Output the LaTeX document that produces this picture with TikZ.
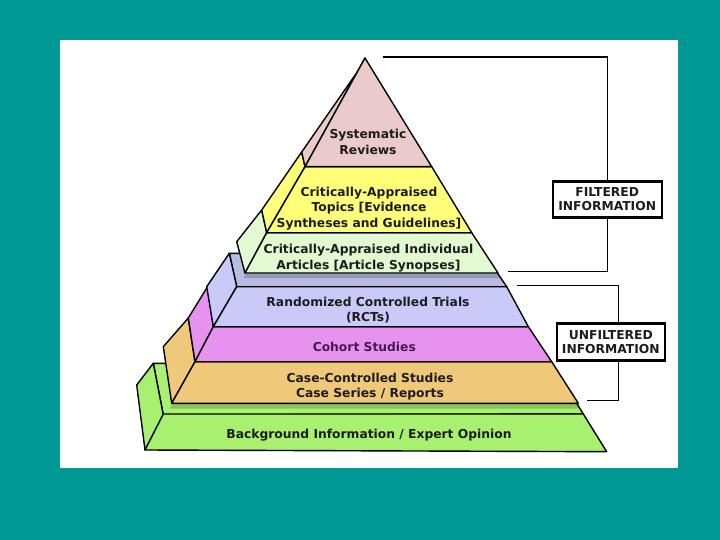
\documentclass[tikz,border=0pt]{standalone}
\usepackage{fontspec}
\setmainfont{DejaVu Sans}
\usetikzlibrary{positioning}
\usepackage{xcolor}

\definecolor{slidebg}{RGB}{0,153,150}
\definecolor{srpink}{RGB}{234,202,202}
\definecolor{catyellow}{RGB}{255,255,122}
\definecolor{caigreen}{RGB}{226,250,210}
\definecolor{rctblue}{RGB}{202,202,248}
\definecolor{rcttop}{RGB}{184,188,226}
\definecolor{cohpink}{RGB}{232,146,240}
\definecolor{caseorange}{RGB}{240,200,122}
\definecolor{basegreen}{RGB}{168,240,112}
\definecolor{txtgray}{RGB}{28,28,28}
\definecolor{txtpurple}{RGB}{70,24,80}

\begin{document}
\begin{tikzpicture}[
  x=1pt, y=-1pt,
  face/.style={
    draw=black,
    line width=1.4pt,
    line join=round
  },
  lbl/.style={
    font=\bfseries\fontsize{12.3}{15.3}\selectfont,
    text=txtgray,
    align=center
  },
  tag/.style={
    draw=black,
    line width=2.4pt,
    fill=white,
    align=center,
    inner sep=1pt,
    minimum width=109pt,
    minimum height=36pt,
    text=txtgray,
    font=\bfseries\fontsize{12.3}{14}\selectfont
  },
  link/.style={line width=1.1pt},
  shade/.style={fill=black, opacity=0.18}
]

\useasboundingbox (0,0) rectangle (720,540);
\fill[slidebg] (0,0) rectangle (720,540);
\fill[white] (60,40) rectangle (678,468);

% base layer
\filldraw[face, fill=basegreen] (163.3,415) -- (583.3,414) -- (552,363.3) -- (153.3,363.3) -- cycle;
\filldraw[face, fill=basegreen] (145,450) -- (163.3,415) -- (153.3,363.3) -- (136.7,385) -- cycle;
\filldraw[face, fill=basegreen] (145,450) -- (163.3,414) -- (583.3,414) -- (606.7,451.7) -- cycle;
\fill[shade] (172,404) -- (578.5,404) -- (580.5,408.5) -- (170,408.5) -- cycle;

% case-controlled
\filldraw[face, fill=caseorange] (171.7,403.3) -- (195,361.7) -- (188.3,318) -- (163.3,346.7) -- cycle;
\filldraw[face, fill=caseorange] (171.7,403.3) -- (195,361.7) -- (551.7,361.7) -- (578.3,403.3) -- cycle;

% cohort
\filldraw[face, fill=cohpink] (195,361.7) -- (213.3,326.7) -- (208.3,285.5) -- (188.3,318) -- cycle;
\filldraw[face, fill=cohpink] (195,361.7) -- (213.3,326.7) -- (528.3,326.7) -- (551.7,361.7) -- cycle;

% rcts
\filldraw[face, fill=rcttop] (236.7,286.7) -- (506.7,286.7) -- (484,253.3) -- (229.3,253.3) -- cycle;
\filldraw[face, fill=rctblue] (213.3,326.7) -- (236.7,286.7) -- (229.3,253.3) -- (206.7,286.7) -- cycle;
\filldraw[face, fill=rctblue] (213.3,326.7) -- (236.7,286.7) -- (506.7,286.7) -- (528.3,326.7) -- cycle;
\fill[shade] (245.5,274) -- (498.5,274) -- (500.5,278) -- (243.5,278) -- cycle;

% individual articles
\filldraw[face, fill=caigreen] (245,273) -- (266.7,232.7) -- (261.7,210) -- (236.7,241.7) -- cycle;
\filldraw[face, fill=caigreen] (245,273) -- (266.7,232.7) -- (471.7,232.7) -- (498,273) -- cycle;

% topics
\filldraw[face, fill=catyellow] (266.7,232.7) -- (305,166.7) -- (301.7,152) -- (261.7,210) -- cycle;
\filldraw[face, fill=catyellow] (266.7,232.7) -- (305,166.7) -- (431.7,166.7) -- (471.7,232.7) -- cycle;

% systematic reviews
\filldraw[face, fill=srpink] (305,166.7) -- (301.7,152) -- (360,68) -- (365,58) -- cycle;
\filldraw[face, fill=srpink] (305,166.7) -- (365,58) -- (431.7,166.7) -- cycle;

% labels
\node[lbl] (sysrev) at (368,142) {Systematic\\Reviews};
\node[lbl] (topics) at (369,208.5) {Critically-Appraised\\Topics [Evidence\\Syntheses and Guidelines]};
\node[lbl] (indiv) at (368.5,258.3) {Critically-Appraised Individual\\Articles [Article Synopses]};
\node[lbl] (rct) at (368,310.3) {Randomized Controlled Trials\\(RCTs)};
\node[lbl, text=txtpurple] (cohort) at (364.3,347.3) {Cohort Studies};
\node[lbl] (casectl) at (370,386.7) {Case-Controlled Studies\\Case Series / Reports};
\node[lbl] (backgr) at (369,435) {Background Information / Expert Opinion};

% brackets
\coordinate (ftop) at (383,57);
\coordinate (fbot) at (508,271.7);
\node[tag] (filt) at (607.2,199.5) {FILTERED\\INFORMATION};
\draw[link] (ftop) -| (filt.north);
\draw[link] (filt.south) |- (fbot);

\coordinate (utop) at (517,285.7);
\coordinate (ubot) at (587,400.7);
\node[tag, minimum width=108pt, minimum height=37pt] (unfilt) at (610.8,342) {UNFILTERED\\INFORMATION};
\draw[link] (utop) -| ([xshift=8pt]unfilt.north);
\draw[link] ([xshift=8pt]unfilt.south) |- (ubot);

\end{tikzpicture}
\end{document}
